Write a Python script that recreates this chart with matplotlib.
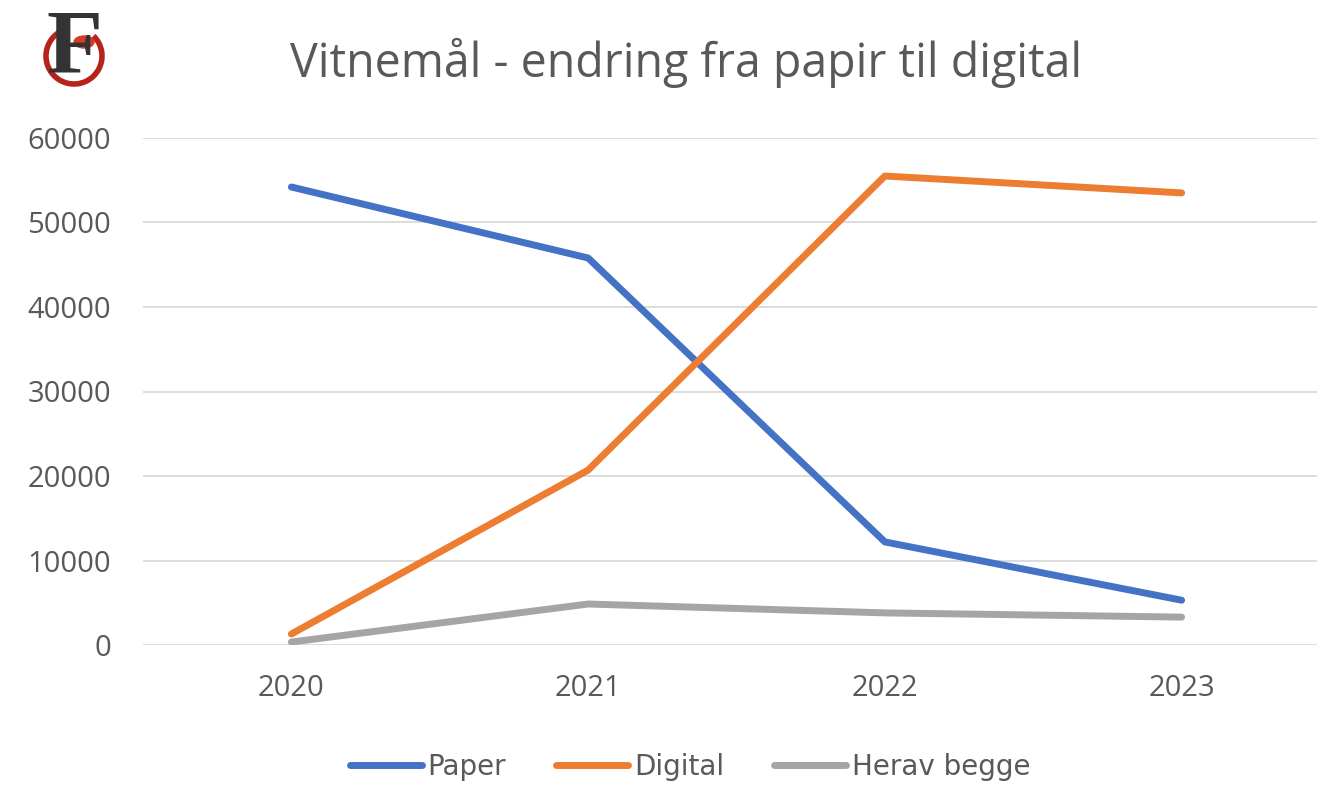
import numpy as np
import matplotlib.pyplot as plt
from matplotlib.patches import Arc, Circle

years = ["2020", "2021", "2022", "2023"]
paper = [54200, 45800, 12200, 5300]
digital = [1300, 20700, 55500, 53500]
begge = [350, 4850, 3800, 3300]

plt.rcParams['font.family'] = ['Open Sans', 'DejaVu Sans']

fig = plt.figure(figsize=(13.17, 7.86), dpi=100)
ax = fig.add_axes([143/1317, 1-645/786, 1-143/1317, (645-138)/786])

x = np.arange(len(years))
ax.plot(x, paper, color="#4472C4", lw=5, label="Paper", solid_capstyle="round")
ax.plot(x, digital, color="#ED7D31", lw=5, label="Digital", solid_capstyle="round")
ax.plot(x, begge, color="#A5A5A5", lw=5, label="Herav begge", solid_capstyle="round")

ax.set_xlim(-0.5, 3.5 - 13/297)
ax.set_ylim(0, 60000)
ax.set_yticks(range(0, 60001, 10000))
ax.set_xticks(x)
ax.set_xticklabels(years)
ax.grid(axis="y", color="#d9d9d9", lw=1.3)
ax.set_axisbelow(True)
for s in ax.spines.values():
    s.set_visible(False)
ax.tick_params(length=0, labelsize=21, colors="#595959")
ax.tick_params(axis="y", pad=23)
ax.tick_params(axis="x", pad=21)

fig.text(686/1317, 1-63/786, "Vitnemål - endring fra papir til digital",
         ha="center", va="center", fontsize=33.5, color="#595959")

leg = fig.legend(loc="center", bbox_to_anchor=(690/1317, 1-767/786), ncol=3,
                 frameon=False, handlelength=2.6, handletextpad=0.2,
                 columnspacing=1.8, labelcolor="#595959",
                 prop={'family': ['DejaVu Sans'], 'size': 20})

# logo
fig.patches.append(Arc((74/1317, 1-56/786), 56/1317, 56/786, theta1=100, theta2=420,
                       transform=fig.transFigure, color="#b5231b", lw=4))
fig.patches.append(Circle((84/1317, 1-42/786), 10/1317, transform=fig.transFigure,
                          color="#d93a2b"))
fig.text(74/1317, 1-50/786, "F", ha="center", va="center", fontsize=66,
         family=["Liberation Serif", "DejaVu Serif"], color="#333333", weight="bold")

fig.savefig("out.png", dpi=100)
